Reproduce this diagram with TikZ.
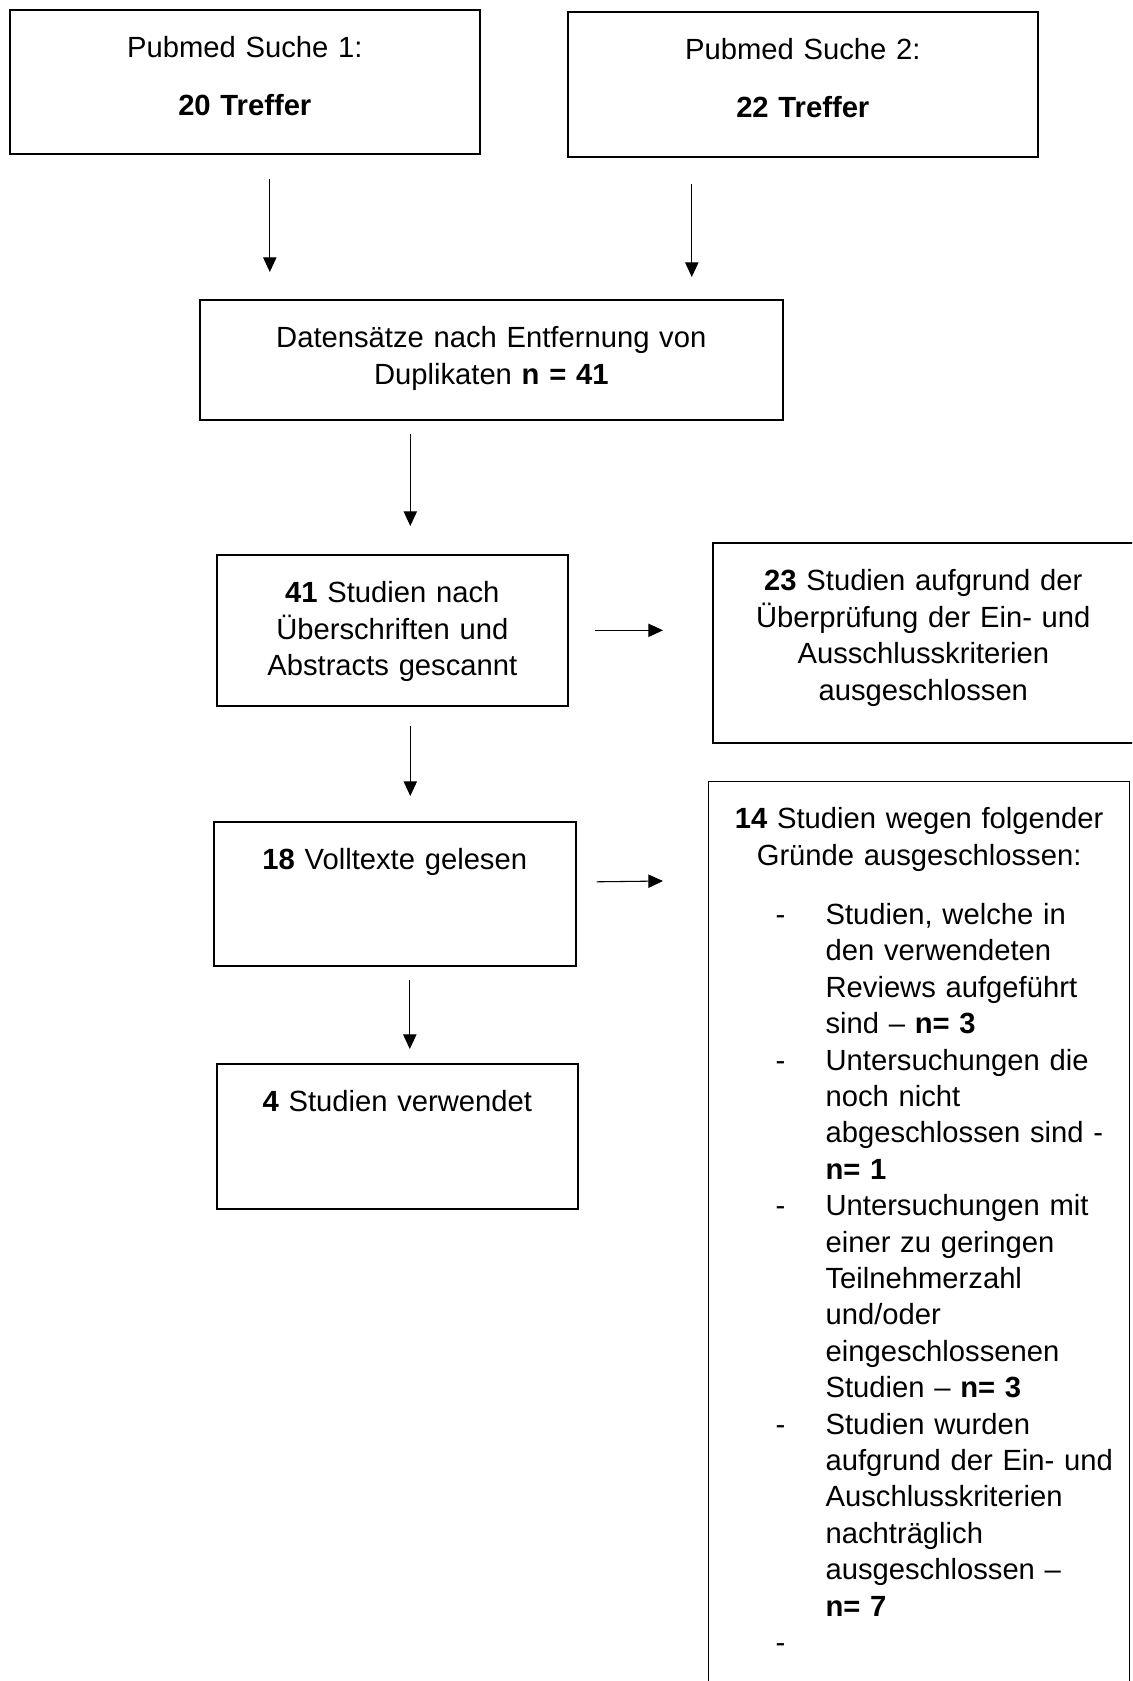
\documentclass[tikz,border=0pt]{standalone}
\usepackage{fontspec}
\setmainfont{Liberation Sans}
\usepackage{tikz}
\usetikzlibrary{arrows.meta}
\newcommand{\boxfont}{\fontsize{21.9pt}{27.3pt}\selectfont}
\tikzset{
  box/.style={draw, line width=1.2pt, anchor=north west, inner sep=0pt, align=center, text height=36pt, font=\boxfont},
  listbox/.style={box, line width=0.9pt, align=left, text height=35.5pt},
  arrow/.style={-{Triangle[length=11pt, width=10pt]}, line width=0.8pt}
}

\begin{document}
\begin{tikzpicture}[x=0.75pt, y=-0.75pt]
    \useasboundingbox (0,0) rectangle (1132,1681);
    \clip (0,0) rectangle (1132,1681);
    % search results
    \node[box, text width=352.5pt, text depth=72pt] (search1) at (9,9) {Pubmed Suche 1:\\[16.2pt]\textbf{20 Treffer}};
    \node[box, text width=352.5pt, text depth=72.75pt] (search2) at (567,11) {Pubmed Suche 2:\\[16.2pt]\textbf{22 Treffer}};
    \node[box, text width=437.25pt, text depth=54pt] (dedup) at (199,299) {Datensätze nach Entfernung von\\Duplikaten \textbf{n = 41}};
    % screening
    \node[box, text width=263.25pt, text depth=77.25pt] (screen) at (216,554) {\textbf{41} Studien nach\\Überschriften und\\Abstracts gescannt};
    \node[box, text width=315.75pt, text depth=114pt] (excl1) at (712,542) {\textbf{23} Studien aufgrund der\\Überprüfung der Ein- und\\Ausschlusskriterien\\ausgeschlossen};
    \node[box, text width=271.5pt, text depth=72pt] (fulltext) at (213,821) {\textbf{18} Volltexte gelesen};
    \node[box, text width=270.75pt, text depth=72.75pt] (used) at (216,1063) {\textbf{4} Studien verwendet};
    \node[listbox, text width=315.75pt, text depth=699pt] (excl2) at (708,781) {%
      {\centering\textbf{14} Studien wegen folgender\\Gründe ausgeschlossen:\par}
      \vspace{17pt}
      \begin{tabular}[t]{@{\hspace{50.25pt}}p{37.5pt}@{}l@{}}
      - & Studien, welche in\\
        & den verwendeten\\
        & Reviews aufgeführt\\
        & sind – \textbf{n= 3}\\
      - & Untersuchungen die\\
        & noch nicht\\
        & abgeschlossen sind -\\
        & \textbf{n= 1}\\
      - & Untersuchungen mit\\
        & einer zu geringen\\
        & Teilnehmerzahl\\
        & und/oder\\
        & eingeschlossenen\\
        & Studien – \textbf{n= 3}\\
      - & Studien wurden\\
        & aufgrund der Ein- und\\
        & Auschlusskriterien\\
        & nachträglich\\
        & ausgeschlossen –\\
        & \textbf{n= 7}\\
      - &
      \end{tabular}};
    % connectors
    \draw[arrow] ([shift={(25,24)}]search1.south) -- ([shift={(-221.5,-27)}]dedup.north);
    \draw[arrow] ([shift={(-111,26)}]search2.south) -- ([shift={(200.5,-22)}]dedup.north);
    \draw[arrow] ([shift={(-81,13)}]dedup.south) -- ([shift={(18,-28)}]screen.north);
    \draw[arrow] ([shift={(18,19)}]screen.south) -- ([shift={(15.5,-25)}]fulltext.north);
    \draw[arrow] ([shift={(15,13)}]fulltext.south) -- ([shift={(12.5,-14)}]used.north);
    \draw[arrow] ([shift={(26,0)}]screen.east) -- ([shift={(-49,-12.5)}]excl1.west);
    \draw[arrow] ([shift={(20,-12)}]fulltext.east) -- ([shift={(-45,100)}]excl2.north west);
\end{tikzpicture}
\end{document}
